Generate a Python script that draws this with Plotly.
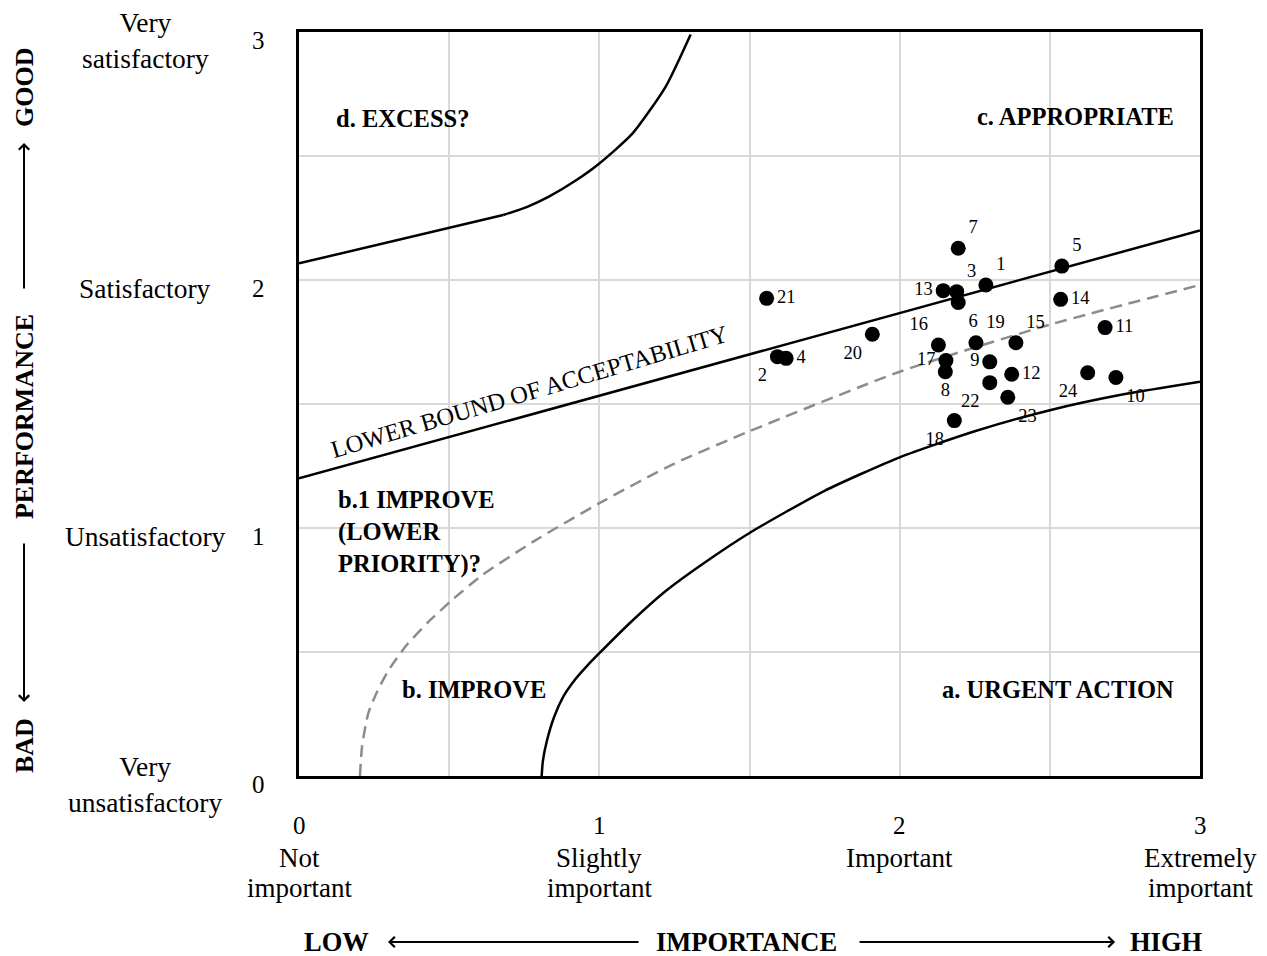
import plotly.graph_objects as go

# ---------------- data ----------------
item_ids = ["1", "2", "3", "4", "5", "6", "7", "8", "9", "10", "11", "12",
            "13", "14", "15", "16", "17", "18", "19", "20", "21", "22", "23", "24"]
importance = [2.287, 1.593, 2.19, 1.622, 2.54, 2.195, 2.195, 2.152, 2.30, 2.72, 2.684, 2.373,
              2.145, 2.536, 2.387, 2.129, 2.154, 2.182, 2.254, 1.909, 1.557, 2.30, 2.36, 2.626]
performance = [1.98, 1.691, 1.953, 1.684, 2.056, 1.909, 2.128, 1.63, 1.67, 1.607, 1.808, 1.62,
               1.957, 1.922, 1.747, 1.738, 1.675, 1.433, 1.747, 1.781, 1.926, 1.586, 1.527, 1.626]
label_pos = ["top right", "bottom left", "top right", "middle right", "top right", "bottom right",
             "top right", "bottom center", "middle left", "bottom right", "middle right", "middle right",
             "middle left", "middle right", "top right", "top left", "middle left", "bottom left",
             "top right", "bottom left", "middle right", "bottom left", "bottom right", "bottom left"]

# boundary curves
lower_bound_x = [0.0, 3.0]
lower_bound_y = [1.2, 2.2]

urgent_x = [0.808, 0.812, 0.825, 0.85, 0.88, 0.92, 0.96, 1.0, 1.1, 1.22, 1.35, 1.5,
            1.75, 2.0, 2.25, 2.5, 2.75, 3.0]
urgent_y = [0.0, 0.06, 0.14, 0.24, 0.32, 0.39, 0.445, 0.495, 0.615, 0.745, 0.86, 0.98,
            1.15, 1.285, 1.39, 1.475, 1.54, 1.59]

priority_x = [0.203, 0.21, 0.23, 0.26, 0.30, 0.36, 0.43, 0.51, 0.61, 0.78, 1.0, 1.25,
              1.5, 2.0, 2.5, 3.0]
priority_y = [0.0, 0.12, 0.25, 0.34, 0.43, 0.53, 0.62, 0.71, 0.81, 0.945, 1.10, 1.26,
              1.39, 1.63, 1.82, 1.98]

excess_line_x = [0.0, 0.68]
excess_line_y = [2.067, 2.262]
excess_curve_x = [0.68, 0.76, 0.832, 0.92, 1.0, 1.11, 1.221, 1.304]
excess_curve_y = [2.262, 2.295, 2.336, 2.40, 2.47, 2.59, 2.78, 2.99]

tick_vals = [0, 1, 2, 3]
x_tick_line1 = ["Not", "Slightly", "Important", "Extremely"]
x_tick_line2 = ["important", "important", "", "important"]
y_tick_words = ["Very<br>unsatisfactory", "Unsatisfactory", "Satisfactory", "Very<br>satisfactory"]
grid_vals = [0, 0.5, 1, 1.5, 2, 2.5, 3]

SERIF = "Liberation Serif, Times New Roman, serif"

fig = go.Figure()

solid = dict(color="black", width=2.5)
fig.add_trace(go.Scatter(x=lower_bound_x, y=lower_bound_y, mode="lines", line=solid, hoverinfo="skip"))
fig.add_trace(go.Scatter(x=urgent_x, y=urgent_y, mode="lines",
                         line=dict(solid, shape="spline", smoothing=0.6), hoverinfo="skip"))
fig.add_trace(go.Scatter(x=priority_x, y=priority_y, mode="lines",
                         line=dict(color="#8c8c8c", width=2.5, dash="12px,7px", shape="spline", smoothing=0.6),
                         hoverinfo="skip"))
fig.add_trace(go.Scatter(x=excess_line_x, y=excess_line_y, mode="lines", line=solid, hoverinfo="skip"))
fig.add_trace(go.Scatter(x=excess_curve_x, y=excess_curve_y, mode="lines",
                         line=dict(solid, shape="spline", smoothing=0.6), hoverinfo="skip"))

fig.add_trace(go.Scatter(x=importance, y=performance, mode="markers+text",
                         text=item_ids, textposition=label_pos,
                         textfont=dict(family=SERIF, size=18.5, color="black"),
                         marker=dict(color="black", size=15), cliponaxis=False))

axis_common = dict(range=[0, 3], tickvals=grid_vals, showticklabels=False, ticks="",
                   showgrid=True, gridcolor="#d9d9d9", gridwidth=1.5, zeroline=False,
                   showline=True, mirror=True, linecolor="black", linewidth=2.5, fixedrange=True)

fig.update_layout(
    width=1259, height=948,
    margin=dict(l=291, r=67, t=24, b=180),
    plot_bgcolor="white", paper_bgcolor="white",
    showlegend=False,
    xaxis=axis_common, yaxis=axis_common,
    font=dict(family=SERIF, color="black"),
)

ann = []
# y axis numbers and words
for v, w in zip(tick_vals, y_tick_words):
    ann.append(dict(x=-0.0455, xref="paper", y=v, yref="y", yshift=-8, text=str(v), showarrow=False,
                    font=dict(size=25), xanchor="center", yanchor="middle"))
    ann.append(dict(x=-0.1709, xref="paper", y=v, yref="y", yshift=-8, text=w, showarrow=False,
                    font=dict(size=27.5), xanchor="center", yanchor="middle"))
# x axis numbers and words
for v, w1, w2 in zip(tick_vals, x_tick_line1, x_tick_line2):
    ann.append(dict(x=v, xref="x", y=-0.0672, yref="paper", text=str(v), showarrow=False,
                    font=dict(size=25), xanchor="center", yanchor="middle"))
    ann.append(dict(x=v, xref="x", y=-0.1102, yref="paper", text=w1, showarrow=False,
                    font=dict(size=27), xanchor="center", yanchor="middle"))
    if w2:
        ann.append(dict(x=v, xref="x", y=-0.1505, yref="paper", text=w2, showarrow=False,
                        font=dict(size=27), xanchor="center", yanchor="middle"))

# bottom axis title with arrows
ann += [
    dict(x=0.0411, y=-0.2231, xref="paper", yref="paper", text="<b>LOW</b>", showarrow=False,
         font=dict(size=26.5), xanchor="center", yanchor="middle"),
    dict(x=0.4972, y=-0.2231, xref="paper", yref="paper", text="<b>IMPORTANCE</b>", showarrow=False,
         font=dict(size=26.5), xanchor="center", yanchor="middle"),
    dict(x=0.9623, y=-0.2231, xref="paper", yref="paper", text="<b>HIGH</b>", showarrow=False,
         font=dict(size=26.5), xanchor="center", yanchor="middle"),
    dict(x=0.0988, y=-0.2231, xref="paper", yref="paper", text="", showarrow=True,
         ax=252, ay=0, arrowhead=4, arrowwidth=2, arrowsize=1, arrowcolor="black", standoff=0),
    dict(x=0.9057, y=-0.2231, xref="paper", yref="paper", text="", showarrow=True,
         ax=-257, ay=0, arrowhead=4, arrowwidth=2, arrowsize=1, arrowcolor="black", standoff=0),
]
# left axis title with arrows
LX = -0.3052
ann += [
    dict(x=LX, y=0.9247, xref="paper", yref="paper", text="<b>GOOD</b>", showarrow=False,
         textangle=-90, font=dict(size=26), xanchor="center", yanchor="middle"),
    dict(x=LX, y=0.4825, xref="paper", yref="paper", text="<b>PERFORMANCE</b>", showarrow=False,
         textangle=-90, font=dict(size=26), xanchor="center", yanchor="middle"),
    dict(x=LX, y=0.0403, xref="paper", yref="paper", text="<b>BAD</b>", showarrow=False,
         textangle=-90, font=dict(size=26), xanchor="center", yanchor="middle"),
    dict(x=LX, y=0.8508, xref="paper", yref="paper", text="", showarrow=True,
         ax=0, ay=147, arrowhead=4, arrowwidth=2, arrowsize=1, arrowcolor="black", standoff=0),
    dict(x=LX, y=0.0995, xref="paper", yref="paper", text="", showarrow=True,
         ax=0, ay=-160, arrowhead=4, arrowwidth=2, arrowsize=1, arrowcolor="black", standoff=0),
]
# zone labels
ann += [
    dict(x=0.343, y=2.653, xref="x", yref="y", text="<b>d. EXCESS?</b>", showarrow=False,
         font=dict(size=24.5), xanchor="center", yanchor="middle"),
    dict(x=2.587, y=2.661, xref="x", yref="y", text="<b>c. APPROPRIATE</b>", showarrow=False,
         font=dict(size=24.5), xanchor="center", yanchor="middle"),
    dict(x=0.124, y=0.984, xref="x", yref="y", text="<b>b.1 IMPROVE<br>(LOWER<br>PRIORITY)?</b>",
         showarrow=False, font=dict(size=24.5), xanchor="left", yanchor="middle", align="left"),
    dict(x=0.583, y=0.347, xref="x", yref="y", text="<b>b. IMPROVE</b>", showarrow=False,
         font=dict(size=24.5), xanchor="center", yanchor="middle"),
    dict(x=2.527, y=0.347, xref="x", yref="y", text="<b>a. URGENT ACTION</b>", showarrow=False,
         font=dict(size=24.5), xanchor="center", yanchor="middle"),
    dict(x=0.766, y=1.552, xref="x", yref="y", text="LOWER BOUND OF ACCEPTABILITY", showarrow=False,
         textangle=-16.5, font=dict(size=24.5), xanchor="center", yanchor="middle"),
]
fig.update_layout(annotations=ann)

fig.write_html("out.html")
